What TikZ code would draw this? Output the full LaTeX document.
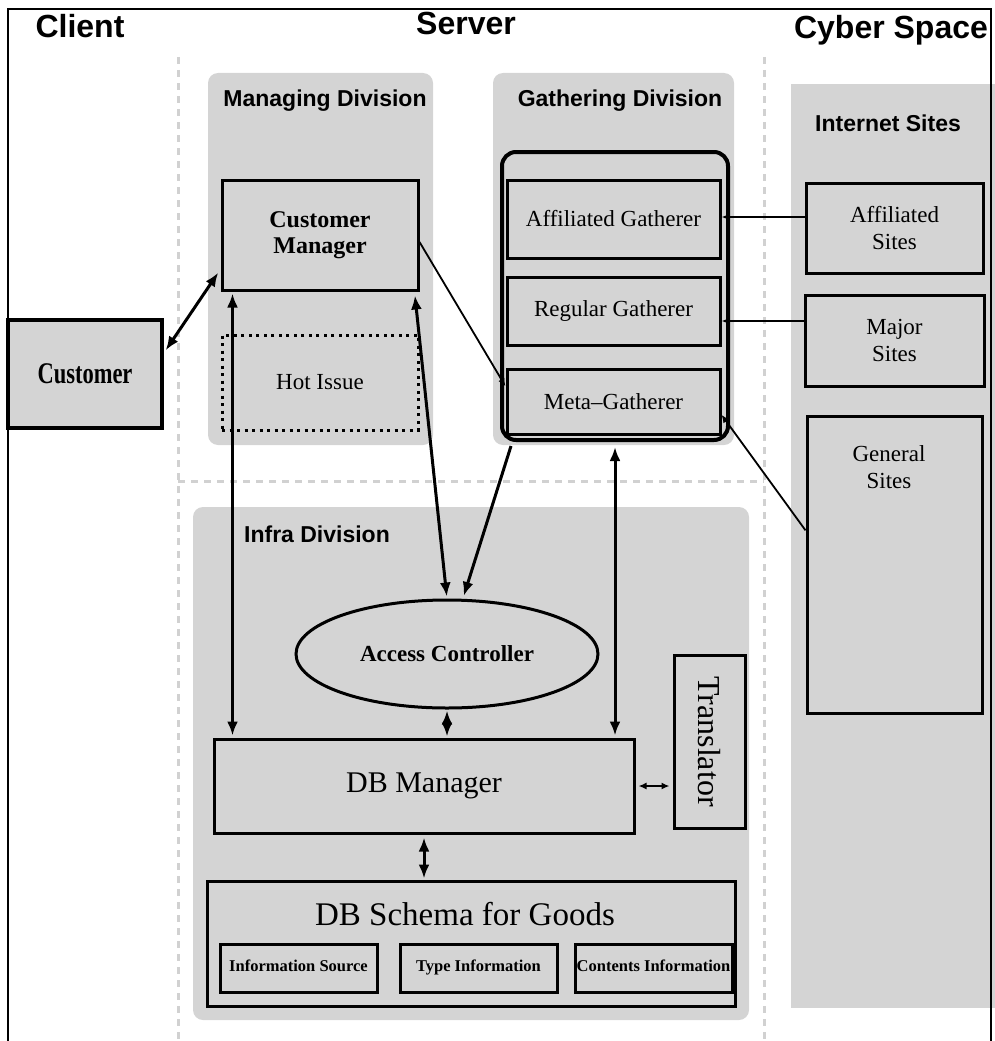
\documentclass[tikz,border=0pt]{standalone}
\usepackage{graphicx}
\usepackage{fontspec}
\setmainfont{Liberation Serif}
\setsansfont{Liberation Sans}
\newfontfamily\narrowserif{Liberation Serif}[FakeStretch=0.75]
\usetikzlibrary{arrows.meta}
\usetikzlibrary{calc}
\usetikzlibrary{positioning}
\usetikzlibrary{shapes.geometric}
\definecolor{divgray}{gray}{0.83}
\newcommand{\fsz}[2]{\fontsize{#1}{#2}\selectfont}

\begin{document}
\begin{tikzpicture}[x=1pt,y=-1pt,inner sep=0pt,>={Latex[length=14pt,width=11pt]},
  division/.style={fill=divgray,rounded corners=10pt},
  modbox/.style={draw,fill=divgray,line width=3pt,align=center,font=\fsz{23}{27}},
  subbox/.style={modbox,minimum width=157,minimum height=48,text height=11pt,text depth=3.5pt,font=\bfseries\fsz{16.5}{19}},
  divlabel/.style={anchor=base,font=\sffamily\bfseries\fsz{23}{27}},
  title/.style={anchor=base,font=\sffamily\bfseries\fsz{32}{36}},
  sepline/.style={draw=black!18,line width=3pt,dash pattern=on 7pt off 6pt},
  big/.style={line width=3pt},
  feed/.style={-{Latex[length=8pt,width=7pt]},line width=1.8pt}]
\useasboundingbox (0,0) rectangle (994,1041);

% divisions
\node [division,minimum width=225,minimum height=372] (managing) at (320.5,259) {};
\node [division,minimum width=241,minimum height=372] (gathering) at (613.5,259) {};
\node [division,minimum width=556,minimum height=513] (infra) at (471,763.5) {};
\node [division,sharp corners,minimum width=209,minimum height=924] (cyber) at (895.5,546) {};

\draw [sepline] (178,57) -- (178,1041);
\draw [sepline] (764,57) -- (764,1041);
\draw [sepline] (178,481) -- (764,481);
\draw [line width=2pt] (8,1041) -- (8,9) -- (991,9) -- (991,1041);

\node [title] (client) at (80,38) {Client};
\node [title] (server) at (466,35) {Server};
\node [title] (cyberspace) at (891,39) {Cyber Space};

\node [divlabel] (mdlabel) at (325,106) {Managing Division};
\node [divlabel] (gdlabel) at (620,106) {Gathering Division};
\node [divlabel] (islabel) at (888,131) {Internet Sites};
\node [divlabel] (idlabel) at (317,542) {Infra Division};

% client and managing division
\node [modbox,line width=4pt,minimum width=154,minimum height=108,font=\narrowserif\bfseries\fsz{30}{34}] (cust) at (85,374) {Customer};
\node [modbox,minimum width=196,minimum height=110,font=\bfseries\fsz{24}{26}] (cm) at (320,235) {Customer\\Manager};
\node [modbox,dash pattern=on 3pt off 4.5pt,minimum width=196,minimum height=95] (hot) at (320,382.5) {Hot Issue};

% gathering division
\node [draw,line width=4pt,rounded corners=14pt,minimum width=226,minimum height=288] (gath) at (615,296) {};
\node [modbox,minimum width=213,minimum height=78] (affg) at (613.5,219) {Affiliated Gatherer};
\node [modbox,minimum width=213,minimum height=68,below=16pt of affg] (regg) {Regular Gatherer};
\node [modbox,minimum width=213,minimum height=65,below=21pt of regg] (meta) {Meta--Gatherer};

% internet sites
\node [modbox,minimum width=177,minimum height=90] (affs) at (894.5,228) {Affiliated\\Sites};
\node [modbox,minimum width=179,minimum height=91,below=19pt of affs] (majs) {Major\\Sites};
\node [modbox,minimum width=175,minimum height=297,below=27pt of majs] (gens) {};
\node [font=\fsz{23}{27},align=center] (genstext) at (889,467) {General\\Sites};

% infra division
\node [draw,ellipse,fill=divgray,line width=3pt,minimum width=302,minimum height=108,font=\bfseries\fsz{23}{26}] (ac) at (447,654) {Access Controller};
\node [modbox,minimum width=420,minimum height=94,font=\fsz{30}{34}] (dbm) at (424,786) {DB Manager};
\node [modbox,minimum width=71,minimum height=173,font=\fsz{32}{36}] (trans) at (709.5,741.5) {\rotatebox{-90}{Translator}};
\node [modbox,minimum width=528,minimum height=125] (schema) at (471,943.5) {};
\node [anchor=base,font=\fsz{33}{36}] (schematext) at (465,925) {DB Schema for Goods};
\node [subbox] (isrc) at (298.5,968) {Information Source};
\node [subbox,right=20pt of isrc] (tinfo) {Type Information};
\node [subbox,right=15pt of tinfo] (cinfo) {Contents Information};

% connectors
\draw [big,<->,shorten <=3pt,shorten >=4pt] (cust.15) -- (cm.199);
\coordinate (cmL) at ([xshift=12pt]cm.south west);
\draw [big,<->,shorten <=2pt,shorten >=2pt] (cmL) -- (cmL |- dbm.north);
\coordinate (cmR) at ([xshift=-5pt]cm.south east);
\draw [big,<->,shorten <=4pt,shorten >=2pt] (cmR) -- (ac.north);
\coordinate (gathL) at ([xshift=11pt,yshift=-4pt]gath.south west);
\draw [big,->,shorten >=3pt] (gathL) -- (ac.74);
\draw [big,<->,shorten <=5pt,shorten >=2pt] (gath.south) -- (gath.south |- dbm.north);
\draw [big,<->,shorten <=1pt,shorten >=1pt] (ac.south) -- (ac.south |- dbm.north);
\draw [big,<->,shorten <=3pt,shorten >=1pt] (dbm.south) -- (dbm.south |- schema.north);
\draw [feed,{Latex[length=8pt,width=7pt]}-{Latex[length=8pt,width=7pt]},shorten <=3pt,shorten >=3pt] (dbm.east) -- (dbm.east -| trans.west);
\coordinate (affin) at ([yshift=2pt]affg.east);
\draw [feed] (affin -| affs.west) -- (affin);
\coordinate (regin) at ([yshift=-10pt]regg.east);
\draw [feed] (regin -| majs.west) -- (regin);
\draw [feed] (gens.159) -- (meta.-7);
\draw [feed] (cm.-4) -- (meta.172);
\end{tikzpicture}
\end{document}
